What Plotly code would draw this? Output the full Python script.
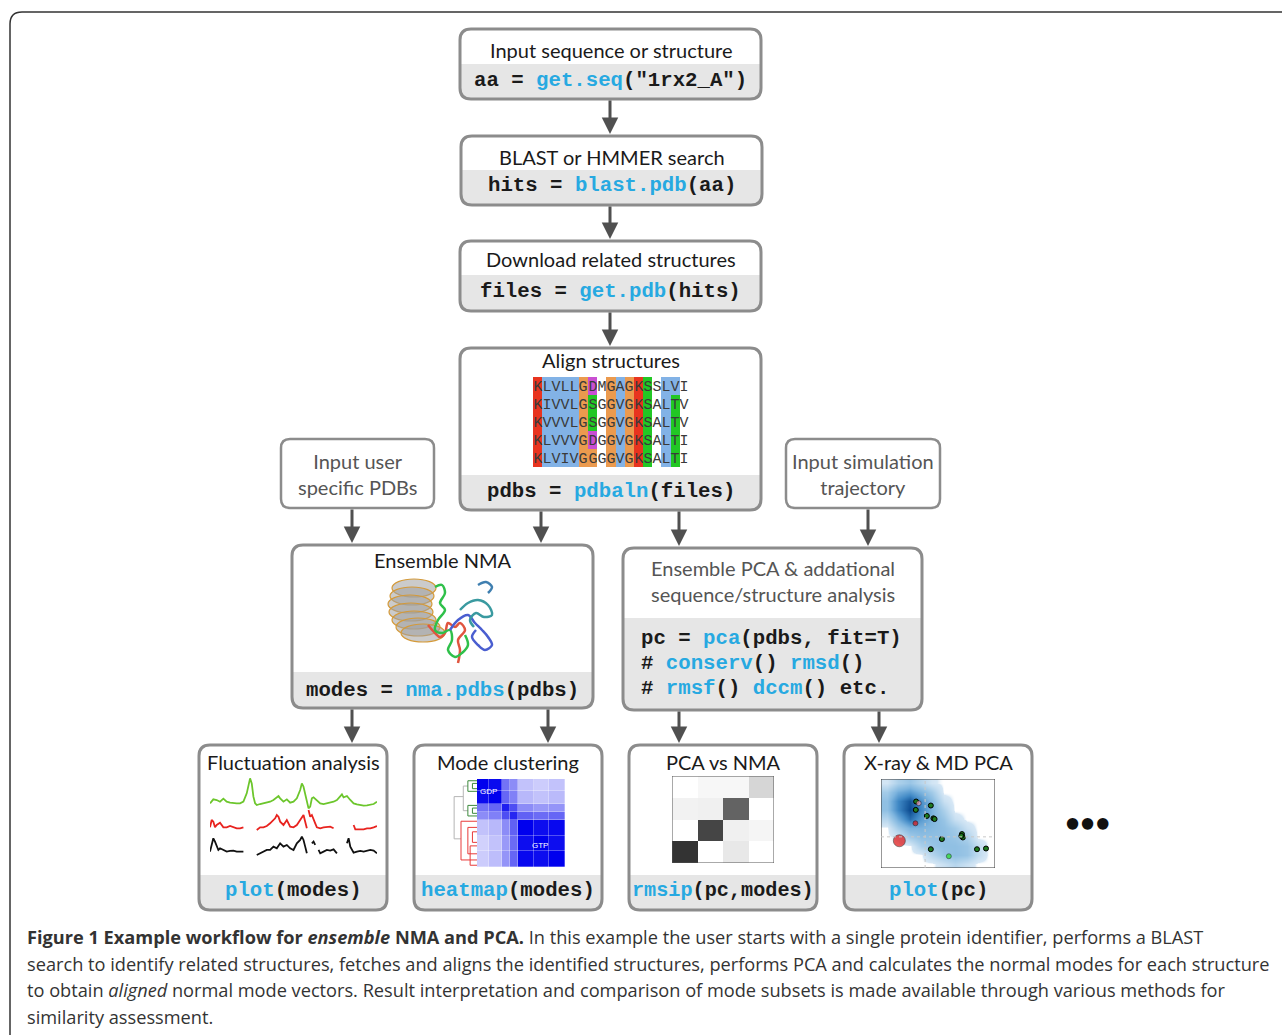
import plotly.graph_objects as go

W, H = 1282, 1035
BLUE = "#27a9e1"
INK = "#1a1a1a"
GREYTXT = "#555555"
BORDER = "#8c8c8c"
BAND = "#e6e6e6"
ARROW = "#505050"
SANS = "Lato"
MONO = "Liberation Mono"

# ---------------- text content ----------------
main_titles = ["Input sequence or structure", "BLAST or HMMER search",
               "Download related structures", "Align structures"]
main_code = [["aa = ", "get.seq", '("1rx2_A")'],
             ["hits = ", "blast.pdb", "(aa)"],
             ["files = ", "get.pdb", "(hits)"],
             ["pdbs = ", "pdbaln", "(files)"]]
input_labels = ["Input user<br>specific PDBs", "Input simulation<br>trajectory"]
nma_title = "Ensemble NMA"
nma_code = ["modes = ", "nma.pdbs", "(pdbs)"]
pca_titles = ["Ensemble PCA &amp; addational", "sequence/structure analysis"]
pca_code = [["pc = ", "pca", "(pdbs, fit=T)"],
            ["# ", "conserv", "() ", "rmsd", "()"],
            ["# ", "rmsf", "() ", "dccm", "() etc."]]
result_titles = ["Fluctuation analysis", "Mode clustering", "PCA vs NMA", "X-ray &amp; MD PCA"]
result_code = [["", "plot", "(modes)"], ["", "heatmap", "(modes)"],
               ["", "rmsip", "(pc,modes)"], ["", "plot", "(pc)"]]
caption = [
    "<b>Figure 1 Example workflow for <i>ensemble</i> NMA and PCA.</b> In this example the user starts with a single protein identifier, performs a BLAST",
    "search to identify related structures, fetches and aligns the identified structures, performs PCA and calculates the normal modes for each structure",
    "to obtain <i>aligned</i> normal mode vectors. Result interpretation and comparison of mode subsets is made available through various methods for",
    "similarity assessment.",
]

# ---------------- alignment ----------------
aln_seqs = ["KLVLLGDMGAGKSSLVI",
            "KIVVLGSGGVGKSALTV",
            "KVVVLGSGGVGKSALTV",
            "KLVVVGDGGVGKSALTI",
            "KLVIVGGGGVGKSALTI"]
aln_classes = ["RBBBBOMWOBORGWBBW",
               "RBBBBOGWOBORGWBGW",
               "RBBBBOGWOBORGWBGW",
               "RBBBBOMWOBORGWBGW",
               "RBBBBOOWOBORGWBGW"]
class_codes = {"W": 0, "R": 1, "B": 2, "O": 3, "G": 4, "M": 5}

# ---------------- fluctuation profiles ----------------
green_res = [0, 2, 4, 6, 8, 10, 12, 14, 16, 18, 20, 22, 23, 24, 25, 26, 27, 28, 30, 32, 34, 36, 38, 40, 41,
             42, 44, 46, 48, 50, 52, 54, 55, 56, 57, 58, 59, 60, 61, 62, 64, 66, 68, 70, 72, 74, 76, 78, 79,
             80, 82, 84, 86, 88, 90, 92, 94, 96, 98, 100]
green_val = [2.0, 3.2, 3.0, 2.5, 3.4, 2.5, 2.2, 2.0, 2.0, 2.0, 2.5, 5.0, 7.0, 9.5, 8.0, 4.0, 2.0, 1.5, 1.8,
             2.0, 2.2, 2.5, 3.0, 3.8, 4.2, 3.5, 2.5, 3.2, 2.2, 2.5, 3.5, 6.0, 8.0, 7.0, 4.5, 3.0, 0.5, 1.0,
             3.5, 3.8, 2.8, 2.0, 1.8, 2.0, 2.2, 2.5, 3.0, 4.0, 4.7, 3.8, 4.2, 3.0, 2.0, 1.7, 1.5, 1.3, 1.4,
             1.5, 1.8, 2.5]
red_res = [0, 1, 2, 3, 4, 6, 8, 10, 12, 14, 16, 18, 20, None,
           28, 30, 32, 34, 36, 38, 39, 40, 41, 42, 44, 46, 47, 48, 50, 52, 54, 56, 57, 58, None,
           59, 60, 61, 62, 63, 64, 66, 68, 70, 72, 74, None,
           86, 87, 90, 92, 94, 96, 98, 100]
red_val = [1.8, 4.0, 3.5, 1.8, 2.5, 3.2, 1.8, 1.8, 2.2, 1.8, 1.5, 1.5, 1.8, None,
           1.0, 1.8, 1.8, 2.2, 3.0, 4.0, 4.5, 5.5, 5.0, 3.5, 2.5, 4.0, 2.8, 2.0, 1.8, 2.5, 4.0, 5.5, 3.5, 1.5, None,
           7.0, 5.0, 5.5, 4.0, 3.0, 1.8, 1.5, 1.8, 1.8, 2.0, 1.5, None,
           2.5, 1.2, 1.2, 1.2, 1.5, 1.5, 1.8, 2.2]
black_res = [0, 1, 2, 3, 4, 5, 6, 8, 10, 12, 14, 16, 18, 20, None,
             28, 30, 32, 34, 36, 38, 40, 42, 44, 46, 48, 50, 52, 54, 55, 56, 57, 58, None,
             61, 62, 63, None,
             65, 66, 68, 70, 72, 74, 76, None,
             82, 83, 84, 85, 86, 88, 90, 92, 94, 96, 98, 100]
black_val = [2.0, 4.0, 6.0, 5.0, 3.5, 2.5, 3.0, 2.5, 2.0, 2.2, 2.3, 2.0, 2.0, 2.0, None,
             1.0, 1.5, 2.0, 2.5, 2.5, 3.5, 3.0, 4.5, 3.5, 4.0, 3.0, 2.5, 4.5, 5.5, 6.5, 5.5, 3.5, 1.5, None,
             4.5, 5.0, 4.0, None,
             2.5, 1.5, 2.0, 2.5, 2.3, 2.7, 1.5, None,
             4.5, 6.0, 3.5, 2.5, 1.7, 2.0, 2.2, 2.0, 2.2, 2.5, 2.3, 1.5]

# ---------------- mode clustering ----------------
clust_edges = [0, 14, 28, 38, 47, 65, 82, 100]
clust_z = [[1.00, 0.96, 0.55, 0.45, 0.24, 0.20, 0.24],
           [0.96, 1.00, 0.60, 0.50, 0.28, 0.24, 0.27],
           [0.55, 0.60, 0.88, 0.70, 0.45, 0.40, 0.42],
           [0.45, 0.50, 0.70, 0.85, 0.62, 0.58, 0.60],
           [0.24, 0.28, 0.45, 0.62, 1.00, 0.95, 0.97],
           [0.18, 0.24, 0.40, 0.58, 0.95, 1.00, 0.95],
           [0.20, 0.26, 0.42, 0.60, 0.97, 0.95, 1.00]]
dendro_grey_x = [0, 0, None, 0, 4, None, 0, 3, None, 4, 4, None, 4, 6, None, 4, 6]
dendro_grey_y = [20, 68, None, 20, 20, None, 68, 68, None, 8, 36, None, 8, 8, None, 36, 36]
dendro_green_x = [6, 6, None, 6, 10, None, 6, 10, None, 8, 8, None, 8, 10, None, 8, 10,
                  None, 6, 6, None, 6, 10, None, 6, 10, None, 8, 8, None, 8, 10, None, 8, 10]
dendro_green_y = [2, 14, None, 2, 2, None, 14, 14, None, 5, 11, None, 5, 5, None, 11, 11,
                  None, 30, 42, None, 30, 30, None, 42, 42, None, 33, 39, None, 33, 33, None, 39, 39]
dendro_red_x = [3, 3, None, 3, 10, None, 3, 10, None, 6, 6, None, 6, 10, None, 6, 10, None,
                8, 8, None, 8, 10, None, 8, 10, None, 7, 7, None, 7, 10, None, 7, 10]
dendro_red_y = [48, 92, None, 48, 48, None, 92, 92, None, 55, 85, None, 55, 55, None, 85, 85, None,
                60, 72, None, 60, 60, None, 72, 72, None, 76, 98, None, 76, 76, None, 98, 98]

# ---------------- PCA vs NMA (rmsip) ----------------
rmsip_z = [[0.00, 0.03, 0.03, 0.16],
           [0.05, 0.06, 0.61, 0.00],
           [0.00, 0.73, 0.06, 0.04],
           [0.80, 0.00, 0.09, 0.00]]

# ---------------- X-ray & MD PCA ----------------
dens_z = [[0, 0, 0, 0, 0, 0.10, 0.20, 0.10, 0, 0],
          [0, 0, 0, 0, 0.20, 0.35, 0.40, 0.35, 0.15, 0],
          [0, 0, 0, 0.25, 0.35, 0.40, 0.40, 0.35, 0.15, 0],
          [0, 0.05, 0.30, 0.40, 0.40, 0.40, 0.35, 0.25, 0, 0],
          [0, 0.30, 0.50, 0.50, 0.45, 0.40, 0.30, 0.10, 0, 0],
          [0.20, 0.55, 0.85, 0.65, 0.50, 0.35, 0.10, 0, 0, 0],
          [0.40, 0.75, 1.00, 0.75, 0.50, 0.25, 0, 0, 0, 0],
          [0.40, 0.75, 0.95, 0.70, 0.45, 0.10, 0, 0, 0, 0],
          [0.30, 0.55, 0.65, 0.50, 0.30, 0, 0, 0, 0, 0],
          [0.05, 0.25, 0.35, 0.20, 0.05, 0, 0, 0, 0, 0]]
xray_pc1 = [3.08, 3.05, 4.37, 4.02, 4.60, 4.70, 5.34, 7.10, 7.18, 7.05, 4.37, 8.42, 9.21]
xray_pc2 = [7.47, 6.53, 7.02, 5.85, 5.58, 5.50, 3.25, 3.81, 3.43, 3.60, 2.11, 2.11, 2.19]
ref_pc1 = [1.61, 3.02, 3.31, 5.95]
ref_pc2 = [3.06, 5.02, 7.28, 1.32]
ref_col = ["#e01010", "#e01010", "#f4a0b8", "#22e022"]
ref_size = [12, 5, 5, 5]

# ---------------- NMA cartoon ----------------
barrel_cx = [36, 34, 32, 33, 36, 40, 45]
barrel_cy = [13, 21, 29, 37, 45, 52, 58]
coil_green_x = [55, 62, 65, 60, 65, 58, 55, 62, 70, 72, 68, 75, 82, 88, 85]
coil_green_y = [12, 10, 18, 28, 35, 45, 55, 58, 55, 65, 75, 82, 78, 70, 60]
coil_red_x = [48, 55, 60, 65, 68, 75, 80, 85, 78, 80, 78]
coil_red_y = [50, 58, 62, 58, 48, 52, 48, 55, 65, 75, 88]
coil_blue_x = [70, 78, 88, 95, 102, 108, 112, 105, 98, 92, 96]
coil_blue_y = [55, 45, 40, 48, 55, 62, 70, 75, 70, 62, 55]
coil_teal_x = [80, 88, 98, 108, 112, 104, 96, 90, 94]
coil_teal_y = [35, 28, 25, 30, 40, 42, 38, 45, 52]
coil_top_x = [98, 106, 112, 108]
coil_top_y = [10, 7, 12, 18]


# ---------------- layout geometry ----------------
main_boxes = [(460, 29, 761, 99, 64), (461, 136, 762, 205, 170),
              (460, 241, 761, 311, 275), (460, 348, 761, 510, 475)]
main_title_y = [50, 157, 259, 360]
main_code_y = [80, 185, 291, 491]
input_boxes = [(281, 439, 434, 508), (786, 439, 940, 508)]
nma_box = (292, 545, 593, 708, 672)
pca_box = (623, 548, 922, 710, 618)
result_boxes = [(199, 745, 387, 910, 875), (414, 745, 602, 910, 875),
                (629, 745, 817, 910, 875), (844, 745, 1032, 910, 875)]
arrows = [(610, 99, 134), (610, 205, 239), (610, 311, 346),
          (352, 508, 543), (541, 510, 543), (679, 510, 546), (868, 508, 546),
          (352, 708, 743), (548, 708, 743), (679, 710, 743), (879, 710, 743)]

TITLE_SIZE = 20
CODE_SIZE = 20.7


def rrect(x0, y0, x1, y1, r=11):
    return (f"M {x0+r},{y0} L {x1-r},{y0} Q {x1},{y0} {x1},{y0+r} L {x1},{y1-r} "
            f"Q {x1},{y1} {x1-r},{y1} L {x0+r},{y1} Q {x0},{y1} {x0},{y1-r} "
            f"L {x0},{y0+r} Q {x0},{y0} {x0+r},{y0} Z")


def band(x0, yb, x1, y1, r=11):
    return (f"M {x0},{yb} L {x1},{yb} L {x1},{y1-r} Q {x1},{y1} {x1-r},{y1} "
            f"L {x0+r},{y1} Q {x0},{y1} {x0},{y1-r} Z")


def code_html(parts):
    out = []
    for i, p in enumerate(parts):
        if p == "":
            continue
        if i % 2 == 1:
            out.append(f"<span style='color:{BLUE}'>{p}</span>")
        else:
            out.append(p)
    return "<b>" + "".join(out) + "</b>"


def dom_x(a, b):
    return [a / W, b / W]


def dom_y(top, bottom):
    return [1 - bottom / H, 1 - top / H]


fig = go.Figure()
shapes = []
ann = []

# outer frame
shapes.append(dict(type="path", path=f"M 10,{H+5} L 10,24 Q 10,12 22,12 L {W+5},12",
                   line=dict(color="#333333", width=1.5), layer="below"))


def code_box(x0, y0, x1, y1, yb, width=3):
    shapes.append(dict(type="path", path=rrect(x0, y0, x1, y1), fillcolor="white",
                       line=dict(width=0), layer="below"))
    shapes.append(dict(type="path", path=band(x0, yb, x1, y1), fillcolor=BAND,
                       line=dict(width=0), layer="below"))
    shapes.append(dict(type="path", path=rrect(x0, y0, x1, y1),
                       line=dict(color=BORDER, width=width), layer="below"))


def text(x, y, s, size=TITLE_SIZE, color=INK, family=SANS, xanchor="center"):
    ann.append(dict(x=x, y=y, xref="x", yref="y", text=s, showarrow=False,
                    xanchor=xanchor, yanchor="middle",
                    font=dict(family=family, size=size, color=color)))


for (x0, y0, x1, y1, yb), t, c, ty, cy in zip(main_boxes, main_titles, main_code,
                                             main_title_y, main_code_y):
    code_box(x0, y0, x1, y1, yb)
    text((x0 + x1) / 2, ty, t)
    text((x0 + x1) / 2, cy, code_html(c), size=CODE_SIZE, family=MONO)

for (x0, y0, x1, y1), t in zip(input_boxes, input_labels):
    shapes.append(dict(type="path", path=rrect(x0, y0, x1, y1, 9), fillcolor="white",
                       line=dict(color=BORDER, width=2.5), layer="below"))
    text((x0 + x1) / 2, (y0 + y1) / 2, t, color=GREYTXT)

x0, y0, x1, y1, yb = nma_box
code_box(x0, y0, x1, y1, yb)
text((x0 + x1) / 2, 560, nma_title)
text((x0 + x1) / 2, 690, code_html(nma_code), size=CODE_SIZE, family=MONO)

x0, y0, x1, y1, yb = pca_box
code_box(x0, y0, x1, y1, yb)
for t, ty in zip(pca_titles, [568, 594]):
    text((x0 + x1) / 2, ty, t, color=GREYTXT)
for c, cy in zip(pca_code, [638, 663, 688]):
    text(639, cy, code_html(c), size=CODE_SIZE, family=MONO, xanchor="left")

for (x0, y0, x1, y1, yb), t, c, fs in zip(result_boxes, result_titles, result_code,
                                         [CODE_SIZE, CODE_SIZE, 20.2, CODE_SIZE]):
    code_box(x0, y0, x1, y1, yb)
    text((x0 + x1) / 2, 762, t)
    text((x0 + x1) / 2, 890, code_html(c), size=fs, family=MONO)

text(1087, 822, "<b>•••</b>", size=26, color="#111111")

for xa, ya, yb_ in arrows:
    ann.append(dict(x=xa, y=yb_, ax=xa, ay=ya, xref="x", yref="y", axref="x", ayref="y",
                    text="", showarrow=True, arrowhead=2, arrowsize=1.1,
                    arrowwidth=3, arrowcolor=ARROW, standoff=0))

for i, line in enumerate(caption):
    ann.append(dict(x=25, y=937 + i * 26.7, xref="x", yref="y", text=line, showarrow=False,
                    xanchor="left", yanchor="middle",
                    font=dict(family="Open Sans", size=18.2, color="#333333")))

# ---------------- inset traces ----------------
# fluctuation profiles (x2..x4)
for k, (rx, vy, col) in enumerate([(green_res, green_val, "#6cc62c"),
                                   (red_res, red_val, "#e8231f"),
                                   (black_res, black_val, "#111111")]):
    n = k + 2
    fig.add_trace(go.Scatter(x=rx, y=vy, mode="lines", line=dict(color=col, width=1.8),
                             xaxis=f"x{n}", yaxis=f"y{n}", hoverinfo="skip", showlegend=False))

# alignment (x5)
aln_z = [[class_codes[c] for c in row] for row in aln_classes]
aln_text = [list(s) for s in aln_seqs]
fig.add_trace(go.Heatmap(
    z=aln_z, text=aln_text, texttemplate="%{text}",
    textfont=dict(family=MONO, size=15, color="#3a3a3a"),
    colorscale=[[0, "#ffffff"], [0.2, "#e8341f"], [0.4, "#82b2e6"],
                [0.6, "#eb9a4e"], [0.8, "#22c724"], [1, "#c94fd2"]],
    zmin=0, zmax=5, showscale=False, hoverinfo="skip", xaxis="x5", yaxis="y5"))

# mode clustering (x6) + dendrogram (x7)
fig.add_trace(go.Heatmap(z=clust_z, x=clust_edges, y=clust_edges,
                         colorscale=[[0, "#ffffff"], [1, "#0000ee"]], zmin=0, zmax=1,
                         xgap=0.3, ygap=0.3,
                         showscale=False, hoverinfo="skip", xaxis="x6", yaxis="y6"))
for dx_, dy_, col in [(dendro_grey_x, dendro_grey_y, "#b5b5b5"),
                      (dendro_green_x, dendro_green_y, "#3d8a3d"),
                      (dendro_red_x, dendro_red_y, "#e83a3a")]:
    fig.add_trace(go.Scatter(x=dx_, y=dy_, mode="lines", line=dict(color=col, width=1),
                             xaxis="x7", yaxis="y7", hoverinfo="skip", showlegend=False))

# rmsip (x8)
fig.add_trace(go.Heatmap(z=rmsip_z, colorscale=[[0, "#ffffff"], [1, "#000000"]],
                         zmin=0, zmax=1, showscale=False, hoverinfo="skip",
                         xaxis="x8", yaxis="y8"))

# X-ray & MD PCA (x9)
dens_c = [i + 0.5 for i in range(10)]
fig.add_trace(go.Heatmap(z=dens_z, x=dens_c, y=dens_c, zsmooth="best",
                         colorscale=[[0, "rgba(255,255,255,0)"], [0.03, "#d6e7f5"],
                                     [0.3, "#a3cbe8"], [0.5, "#7db4de"],
                                     [0.75, "#3f88c5"], [1, "#0b4a8f"]],
                         zmin=0, zmax=1, showscale=False, hoverinfo="skip",
                         xaxis="x9", yaxis="y9"))
fig.add_trace(go.Scatter(x=xray_pc1, y=xray_pc2, mode="markers",
                         marker=dict(color="#1f7a1f", size=5, line=dict(color="black", width=1)),
                         xaxis="x9", yaxis="y9", hoverinfo="skip", showlegend=False))
fig.add_trace(go.Scatter(x=ref_pc1, y=ref_pc2, mode="markers",
                         marker=dict(color=ref_col, size=ref_size, line=dict(color="black", width=0.6)),
                         xaxis="x9", yaxis="y9", hoverinfo="skip", showlegend=False))

# NMA cartoon (x10)
for bx, by in zip(barrel_cx, barrel_cy):
    shapes.append(dict(type="circle", xref="x10", yref="y10", x0=bx - 24, x1=bx + 20,
                       y0=by - 9, y1=by + 9, fillcolor="rgba(160,160,160,0.55)",
                       line=dict(color="#d49a3a", width=1.2), layer="below"))
for cx, cy, col in [(coil_red_x, coil_red_y, "#e0553f"),
                    (coil_green_x, coil_green_y, "#2fc04a"),
                    (coil_blue_x, coil_blue_y, "#4a5ed0"),
                    (coil_teal_x, coil_teal_y, "#3a9aa0"),
                    (coil_top_x, coil_top_y, "#3f7fb0")]:
    fig.add_trace(go.Scatter(x=cx, y=cy, mode="lines", line=dict(color=col, width=2.5, shape="spline"),
                             xaxis="x10", yaxis="y10", hoverinfo="skip", showlegend=False))

# inset borders / guide lines
shapes.append(dict(type="rect", xref="x8", yref="y8", x0=-0.5, x1=3.5, y0=-0.5, y1=3.5,
                   line=dict(color="#555555", width=1)))
shapes.append(dict(type="rect", xref="x9", yref="y9", x0=0, x1=10, y0=0, y1=10,
                   line=dict(color="#333333", width=1)))
shapes.append(dict(type="line", xref="x9", yref="y9", x0=3.87, x1=3.87, y0=0, y1=10,
                   line=dict(color="#c8c8c8", width=1, dash="dot")))
shapes.append(dict(type="line", xref="x9", yref="y9", x0=0, x1=10, y0=3.5, y1=3.5,
                   line=dict(color="#c8c8c8", width=1, dash="dot")))
for lbl, lx, ly in [("GDP", 488, 791), ("GTP", 540, 845)]:
    text(lx, ly, lbl, size=8, color="white", family="Liberation Sans")

# ---------------- axes ----------------
hidden = dict(visible=False, showgrid=False, zeroline=False, fixedrange=True)
lay = dict(
    width=W, height=H, margin=dict(l=0, r=0, t=0, b=0),
    paper_bgcolor="white", plot_bgcolor="rgba(0,0,0,0)", showlegend=False,
    xaxis=dict(range=[0, W], domain=[0, 1], **hidden),
    yaxis=dict(range=[H, 0], domain=[0, 1], **hidden),
    shapes=shapes, annotations=ann,
)
insets = {
    2: (dom_x(210, 377), dom_y(776.7, 810), [0, 100], [0, 10]),
    3: (dom_x(210, 377), dom_y(806.7, 833.3), [0, 100], [0, 8]),
    4: (dom_x(210, 377), dom_y(833.3, 858.3), [0, 100], [0, 7.5]),
    5: (dom_x(533, 689), dom_y(377, 467), [-0.5, 16.5], [4.5, -0.5]),
    6: (dom_x(477, 565), dom_y(779, 867), [0, 100], [100, 0]),
    7: (dom_x(453, 477), dom_y(779, 867), [-0.5, 10], [100, 0]),
    8: (dom_x(672, 774), dom_y(776, 863), [-0.5, 3.5], [3.5, -0.5]),
    9: (dom_x(881, 995), dom_y(779, 868), [0, 10], [0, 10]),
    10: (dom_x(380, 505), dom_y(575, 670), [0, 125], [95, 0]),
}
for n, (dx_, dy_, xr, yr) in insets.items():
    lay[f"xaxis{n}"] = dict(domain=dx_, range=xr, anchor=f"y{n}", **hidden)
    lay[f"yaxis{n}"] = dict(domain=dy_, range=yr, anchor=f"x{n}", **hidden)

fig.update_layout(**lay)
fig.write_html("out.html", config={"displayModeBar": False},
               post_script="document.body.style.margin='0';")
